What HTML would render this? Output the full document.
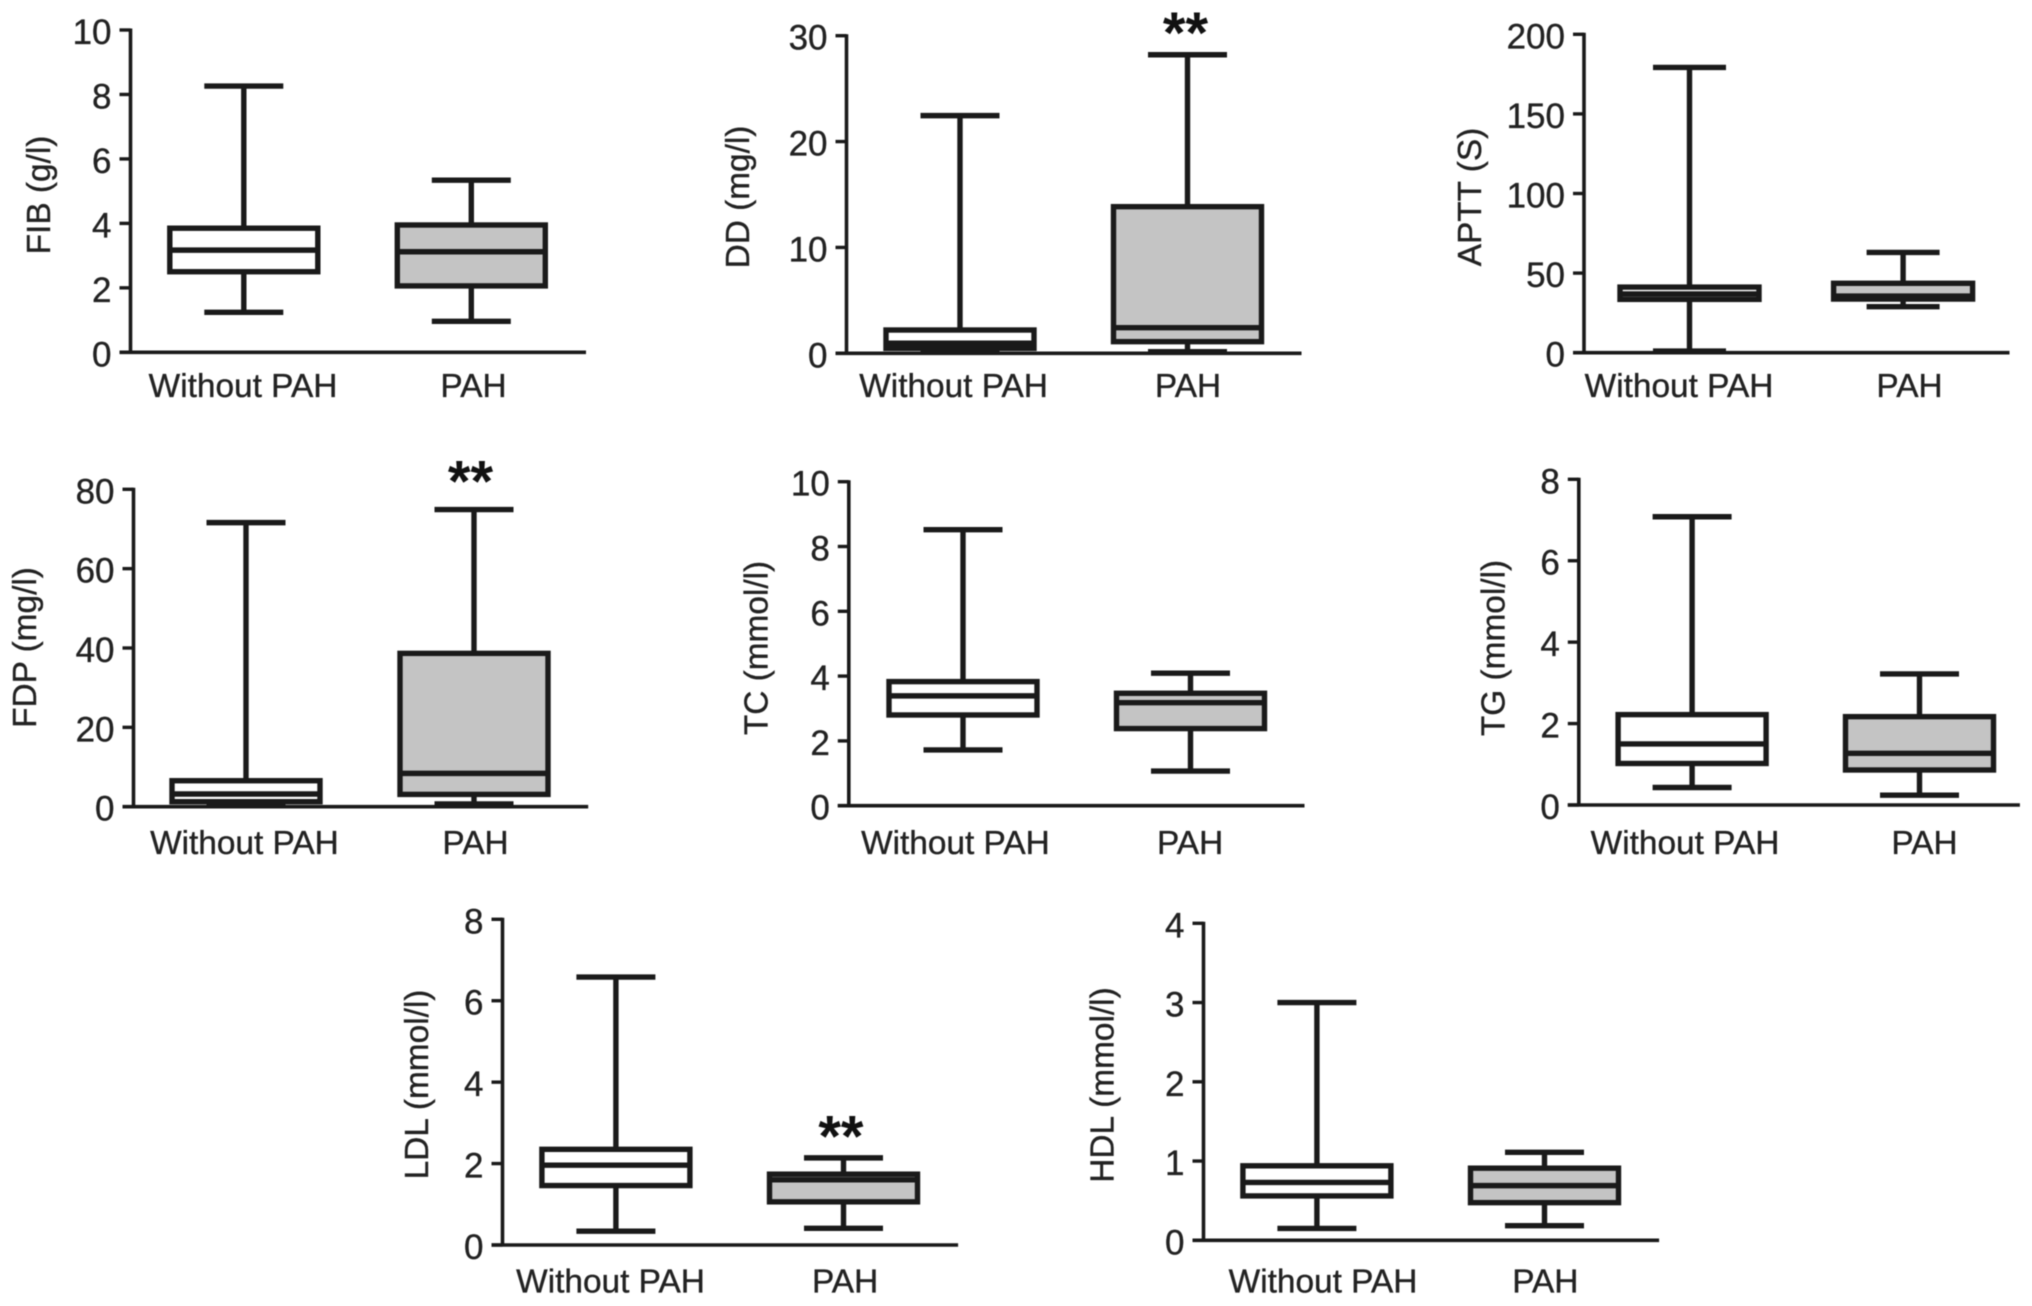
<!DOCTYPE html>
<html lang="en">
<head>
<meta charset="utf-8">
<title>Box plots of coagulation and lipid markers with and without PAH</title>
<style>
  html, body { margin: 0; padding: 0; background: #ffffff; }
  body { width: 2032px; height: 1306px; overflow: hidden; }
  svg { display: block; font-family: "Liberation Sans", Arial, sans-serif; filter: blur(0.6px); }
  text { fill: #222222; font-size: 33.4px; stroke: #222222; stroke-width: 0.35px; }
  text.tick-label { font-size: 35px; }
</style>
</head>
<body>
<svg id="figure" xmlns="http://www.w3.org/2000/svg" width="2032" height="1306" viewBox="0 0 2032 1306"></svg>
<script>
// Categories shared by every panel
const categories = ["Without PAH", "PAH"];

// Axis titles
const titles = ["FIB (g/l)", "DD (mg/l)", "APTT (S)", "FDP (mg/l)", "TC (mmol/l)", "TG (mmol/l)", "LDL (mmol/l)", "HDL (mmol/l)"];

// Tick labels per panel
const fibTicks = [0, 2, 4, 6, 8, 10];
const ddTicks = [0, 10, 20, 30];
const apttTicks = [0, 50, 100, 150, 200];
const fdpTicks = [0, 20, 40, 60, 80];
const tcTicks = [0, 2, 4, 6, 8, 10];
const tgTicks = [0, 2, 4, 6, 8];
const ldlTicks = [0, 2, 4, 6, 8];
const hdlTicks = [0, 1, 2, 3, 4];

// Series values: [low whisker, Q1, median, Q3, high whisker]
const fibWithout = [1.24, 2.5, 3.17, 3.85, 8.26];
const fibPah = [0.96, 2.06, 3.12, 3.95, 5.34];
const ddWithout = [0.15, 0.47, 0.95, 2.2, 22.45];
const ddPah = [0.15, 1.1, 2.42, 13.85, 28.2];
const apttWithout = [1, 33.5, 36.9, 41.2, 179.2];
const apttPah = [28.9, 33.7, 35.6, 43.6, 63];
const fdpWithout = [0.4, 1.26, 3.2, 6.55, 71.6];
const fdpPah = [0.7, 3.1, 8.4, 38.65, 74.9];
const tcWithout = [1.72, 2.8, 3.39, 3.83, 8.52];
const tcPah = [1.07, 2.38, 3.18, 3.47, 4.09];
const tgWithout = [0.43, 1.02, 1.5, 2.22, 7.08];
const tgPah = [0.24, 0.86, 1.27, 2.17, 3.22];
const ldlWithout = [0.34, 1.46, 1.96, 2.35, 6.58];
const ldlPah = [0.41, 1.06, 1.6, 1.74, 2.14];
const hdlWithout = [0.15, 0.56, 0.73, 0.94, 3.0];
const hdlPah = [0.185, 0.475, 0.69, 0.91, 1.11];

// Significance flags per panel: [Without PAH, PAH]
const fibStars = ["", ""];
const ddStars = ["", "**"];
const apttStars = ["", ""];
const fdpStars = ["", "**"];
const tcStars = ["", ""];
const tgStars = ["", ""];
const ldlStars = ["", "**"];
const hdlStars = ["", ""];

const SVG_NS = "http://www.w3.org/2000/svg";
const root = document.getElementById("figure");

function make(tag, parent, props) {
  const el = document.createElementNS(SVG_NS, tag);
  for (const key in props) {
    el.setAttribute(key, props[key]);
  }
  parent.appendChild(el);
  return el;
}

function drawLine(parent, name, x1, y1, x2, y2, width) {
  const el = make("line", parent, { x1: x1, y1: y1, x2: x2, y2: y2, stroke: "#1a1a1a", "stroke-width": width });
  
  
  return el;
}

function drawText(parent, name, str, x, y, anchor, extra) {
  const el = make("text", parent, Object.assign({ x: x, y: y, "text-anchor": anchor }, extra || {}));
  
  
  el.textContent = str;
  return el;
}

function drawPanel(p) {
  const group = make("g", root, { transform: "translate(-2.5,0)" });
  
  

  const maxTick = p.ticks[p.ticks.length - 1];
  const yScale = function (v) {
    return p.y0 - (v / maxTick) * (p.y0 - p.yTop);
  };

  // Axes
  drawLine(group, p.key + '-y-axis', p.axisX, yScale(maxTick) - 1.5, p.axisX, p.y0 + 1.5, 3.6);
  drawLine(group, p.key + '-x-axis', p.axisX - 11, p.y0, p.xEnd, p.y0, 3.6);

  // Ticks and tick labels
  p.ticks.forEach(function (t) {
    drawLine(group, p.key + '-y-tick-' + t, p.axisX - 11, yScale(t), p.axisX, yScale(t), 3.4);
    drawText(group, p.key + '-y-tick-label-' + t, String(t), p.axisX - 19, yScale(t) + 14, "end", { "class": "tick-label" });
  });

  // Axis title
  drawText(group, p.key + '-y-axis-title', p.title, 0, 0, "middle", {
    transform: "translate(" + (p.titleX + 1.5) + "," + p.titleY + ") rotate(-90)"
  });

  // Boxes
  [0, 1].forEach(function (i) {
    const s = p.series[i];
    const cx = p.cx[i];
    const suffix = i === 0 ? 'without-pah' : 'pah';
    const low = yScale(s[0]);
    const q1 = yScale(s[1]);
    const med = yScale(s[2]);
    const q3 = yScale(s[3]);
    const high = yScale(s[4]);

    drawLine(group, p.key + '-whisker-' + suffix, cx, high, cx, low, 5.4);
    drawLine(group, p.key + '-high-cap-' + suffix, cx - p.capHalf, high, cx + p.capHalf, high, 5.4);
    drawLine(group, p.key + '-low-cap-' + suffix, cx - p.capHalf, low, cx + p.capHalf, low, 5.4);

    const box = make("rect", group, {
      x: cx - p.boxHalf,
      y: q3,
      width: p.boxHalf * 2,
      height: q1 - q3,
      fill: i === 0 ? "#ffffff" : "#c4c4c4",
      stroke: "#1a1a1a",
      "stroke-width": 5.4
    });
    
    

    drawLine(group, p.key + '-median-' + suffix, cx - p.boxHalf, med, cx + p.boxHalf, med, 5.4);

    // Category label
    drawText(group, p.key + '-x-label-' + suffix, categories[i], p.labelX[i] + (i === 0 ? 1.5 : 0), p.labelY, "middle");

    // Significance stars
    if (p.stars[i]) {
      drawText(group, p.key + '-significance-' + suffix, p.stars[i], p.starX, p.starY, "middle", {
        style: "font-size:58px;font-weight:bold;fill:#111111;stroke:none"
      });
    }
  });
}

// Panel layout (pixel geometry only, no data values)
const layouts = [
  { key: "fib", title: titles[0], ticks: fibTicks, series: [fibWithout, fibPah], stars: fibStars,
    axisX: 133, yTop: 30, y0: 352.3, xEnd: 588.5, cx: [246.3, 473.8], boxHalf: 74, capHalf: 39.5,
    labelX: [244, 476], labelY: 397, titleX: 51, titleY: 195 },
  { key: "dd", title: titles[1], ticks: ddTicks, series: [ddWithout, ddPah], stars: ddStars,
    axisX: 849, yTop: 35.7, y0: 353.3, xEnd: 1304, cx: [962.5, 1190], boxHalf: 74, capHalf: 39.5,
    labelX: [954.6, 1190.5], labelY: 397, titleX: 750, titleY: 197, starX: 1188, starY: 53 },
  { key: "aptt", title: titles[2], ticks: apttTicks, series: [apttWithout, apttPah], stars: apttStars,
    axisX: 1586.5, yTop: 34.3, y0: 352.7, xEnd: 2012, cx: [1692, 1905.6], boxHalf: 69.5, capHalf: 36.5,
    labelX: [1680, 1912], labelY: 397, titleX: 1482, titleY: 197 },
  { key: "fdp", title: titles[3], ticks: fdpTicks, series: [fdpWithout, fdpPah], stars: fdpStars,
    axisX: 136, yTop: 489.3, y0: 806.7, xEnd: 590.7, cx: [248.5, 476.5], boxHalf: 74, capHalf: 39.5,
    labelX: [245.4, 478], labelY: 854, titleX: 37, titleY: 647.5, starX: 473, starY: 501.5 },
  { key: "tc", title: titles[4], ticks: tcTicks, series: [tcWithout, tcPah], stars: tcStars,
    axisX: 851.3, yTop: 481.7, y0: 805.7, xEnd: 1307, cx: [965.5, 1193], boxHalf: 74, capHalf: 39.5,
    labelX: [956.4, 1192.6], labelY: 854, titleX: 768.5, titleY: 648 },
  { key: "tg", title: titles[5], ticks: tgTicks, series: [tgWithout, tgPah], stars: tgStars,
    axisX: 1581.3, yTop: 479.3, y0: 805, xEnd: 2022.4, cx: [1694.6, 1922], boxHalf: 74, capHalf: 39.5,
    labelX: [1686, 1927], labelY: 854, titleX: 1505.4, titleY: 648 },
  { key: "ldl", title: titles[6], ticks: ldlTicks, series: [ldlWithout, ldlPah], stars: ldlStars,
    axisX: 505, yTop: 919.3, y0: 1245, xEnd: 960.6, cx: [618.4, 846], boxHalf: 74, capHalf: 39.5,
    labelX: [611.5, 847.6], labelY: 1292.7, titleX: 428.8, titleY: 1084.5, starX: 843.4, starY: 1156.5 },
  { key: "hdl", title: titles[7], ticks: hdlTicks, series: [hdlWithout, hdlPah], stars: hdlStars,
    axisX: 1206, yTop: 923.3, y0: 1240.3, xEnd: 1661.6, cx: [1319.4, 1547], boxHalf: 74, capHalf: 39.5,
    labelX: [1324, 1547.8], labelY: 1292.7, titleX: 1114.5, titleY: 1085 }
];

layouts.forEach(drawPanel);
</script>
</body>
</html>
